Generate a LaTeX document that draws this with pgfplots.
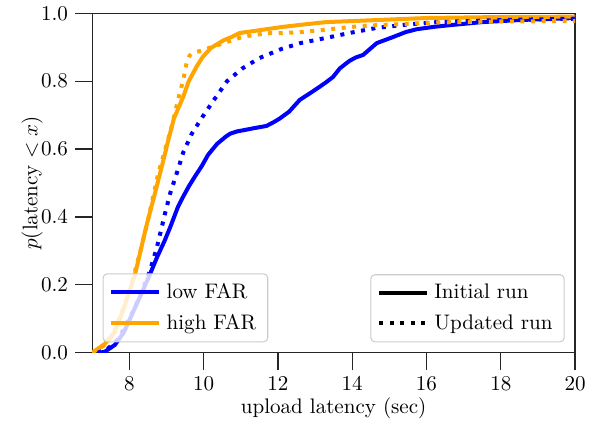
\documentclass[border=0pt]{standalone}
\usepackage{pgfplots}
\pgfplotsset{compat=1.18}

\definecolor{mplblue}{RGB}{0,0,255}
\definecolor{mplorange}{RGB}{255,165,0}

\pgfplotsset{
  cdfaxis/.style={
    width=229.3pt, height=161.2pt, scale only axis,
    xmin=7, xmax=20, ymin=0, ymax=1,
  },
  legendbox/.style={
    legend cell align=left,
    legend style={
      draw=black!20, line width=0.5pt, rounded corners=2pt,
      fill=white, fill opacity=0.8, text opacity=1, draw opacity=1,
      inner xsep=3pt, inner ysep=2pt, row sep=1pt,
      nodes={inner sep=2.5pt},
    },
    legend image code/.code={\draw[##1] (0pt,0pt) -- (22.8pt,0pt);},
  },
  initial/.style={line width=1.9pt, line join=round},
  updated/.style={line width=1.9pt, dash pattern=on 1.9pt off 3.1pt},
}

\begin{document}
\begin{tikzpicture}
\begin{axis}[
  cdfaxis, legendbox,
  axis line style={black!85, line width=0.6pt},
  xtick pos=bottom, ytick pos=left,
  xtick align=outside, ytick align=outside,
  major tick length=8pt,
  every tick/.style={black!85, line width=0.6pt},
  xtick={8,10,12,14,16,18,20},
  ytick={0,0.2,0.4,0.6,0.8,1.0},
  yticklabel style={/pgf/number format/fixed, /pgf/number format/fixed zerofill,
                    /pgf/number format/precision=1},
  xlabel={upload latency (sec)},
  ylabel={$p(\mathrm{latency} < x)$},
  xlabel style={at={(axis description cs:0.5,0)}, anchor=center, yshift=-26.3pt},
  ylabel style={at={(axis description cs:0,0.5)}, anchor=center, yshift=28.5pt},
  legend style={at={(axis description cs:0,0)}, anchor=south west,
                xshift=4.9pt, yshift=4.9pt},
]
\coordinate (sw) at (rel axis cs:0,0);
\coordinate (ne) at (rel axis cs:1,1);

% low FAR, initial run
\addplot[mplblue, initial, forget plot] coordinates {
 (7.2,0.0) (7.34,0.003) (7.61,0.023) (7.85,0.06) (8.1,0.12) (8.35,0.18)
 (8.55,0.23) (8.74,0.28) (8.95,0.33) (9.1,0.37) (9.31,0.43) (9.45,0.46)
 (9.6,0.49) (9.77,0.52) (9.95,0.55) (10.12,0.583) (10.36,0.615) (10.6,0.637)
 (10.71,0.645) (10.9,0.652) (11.1,0.656) (11.33,0.661) (11.69,0.668)
 (11.9,0.68) (12.05,0.69) (12.3,0.71) (12.59,0.745) (12.9,0.767)
 (13.13,0.784) (13.3,0.797) (13.48,0.812) (13.67,0.838) (13.93,0.86)
 (14.1,0.87) (14.29,0.877) (14.66,0.912) (15.1,0.93) (15.45,0.945)
 (15.74,0.953) (16.2,0.96) (16.63,0.965) (17.5,0.974) (18.5,0.98) (20,0.986)
};
% high FAR, initial run
\addplot[mplorange, initial, forget plot] coordinates {
 (7.0,0.0) (7.13,0.01) (7.34,0.026) (7.6,0.06) (7.85,0.13) (8.0,0.18)
 (8.15,0.23) (8.28,0.29) (8.45,0.37) (8.69,0.47) (8.9,0.56) (9.05,0.627)
 (9.2,0.69) (9.45,0.754) (9.6,0.8) (9.81,0.843) (9.98,0.872) (10.2,0.898)
 (10.53,0.92) (10.75,0.93) (10.97,0.942) (11.24,0.946) (11.5,0.95)
 (12.14,0.96) (12.7,0.967) (13.3,0.974) (14.0,0.977) (14.66,0.98)
 (16,0.986) (18,0.989) (20,0.99)
};
% low FAR, updated run
\addplot[mplblue, updated, forget plot] coordinates {
 (7.15,0.0) (7.4,0.01) (7.7,0.04) (8.0,0.1) (8.3,0.17) (8.55,0.24)
 (8.74,0.31) (8.96,0.41) (9.1,0.47) (9.28,0.53) (9.45,0.59) (9.68,0.645)
 (9.97,0.695) (10.28,0.745) (10.63,0.8) (11.05,0.838) (11.5,0.868)
 (12.1,0.895) (12.6,0.912) (13.05,0.922) (13.5,0.932) (13.93,0.942)
 (14.66,0.957) (15.5,0.967) (16.28,0.974) (18,0.98) (20,0.984)
};
% high FAR, updated run
\addplot[mplorange, updated, forget plot] coordinates {
 (7.0,0.0) (7.1,0.008) (7.3,0.02) (7.55,0.05) (7.8,0.12) (8.0,0.18)
 (8.15,0.24) (8.3,0.3) (8.5,0.39) (8.78,0.529) (8.96,0.597) (9.14,0.666)
 (9.31,0.745) (9.45,0.803) (9.54,0.853) (9.62,0.875) (9.7,0.882)
 (9.99,0.892) (10.53,0.912) (11.06,0.931) (11.69,0.941) (12.23,0.942)
 (12.77,0.946) (13.4,0.953) (14.0,0.96) (14.66,0.965) (16.3,0.973)
 (18,0.976) (20,0.977)
};

\addlegendimage{mplblue, line width=1.9pt}
\addlegendentry{low FAR}
\addlegendimage{mplorange, line width=1.9pt}
\addlegendentry{high FAR}
\end{axis}

% second legend: line style per run
\begin{axis}[
  cdfaxis, legendbox, hide axis,
  legend style={at={(axis description cs:1,0)}, anchor=south east,
                xshift=-4.9pt, yshift=4.9pt},
]
\addlegendimage{black, line width=1.9pt}
\addlegendentry{Initial run}
\addlegendimage{black, line width=1.9pt, dash pattern=on 1.9pt off 3.1pt}
\addlegendentry{Updated run}
\end{axis}

\pgfresetboundingbox
\path[use as bounding box] (sw) ++(-43.8pt,-33.9pt) rectangle ([xshift=14.7pt,yshift=6.3pt]ne);
\end{tikzpicture}
\end{document}
